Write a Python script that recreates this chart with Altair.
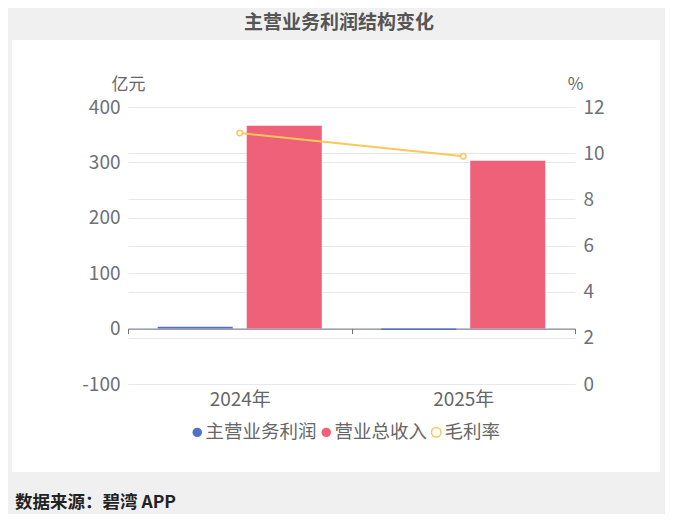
import altair as alt
import pandas as pd

# ---- data ----
years = ["2024年", "2025年"]
series = ["主营业务利润", "营业总收入"]
line_name = "毛利率"
profit = [3.5, -2.5]          # 亿元
revenue = [366, 303]          # 亿元
margin = [10.87, 9.87]        # %
left_ticks = [-100, 0, 100, 200, 300, 400]
right_ticks = [0, 2, 4, 6, 8, 10, 12]
title_text = "主营业务利润结构变化"
source_text = "数据来源：碧湾 APP"
left_title = "亿元"
right_title = "%"
bar_colors = ["#5470c6", "#ef6079"]
line_color = "#fac858"

FONT = "Noto Sans CJK SC"
GRAY_BG = "#f0f0f0"
GRID = "#e6e8ef"
LABEL = "#6e7079"
TICK_FS = 19

bars_df = pd.DataFrame({
    "year": years * 2,
    "series": [series[0]] * len(years) + [series[1]] * len(years),
    "value": profit + revenue,
})
line_df = pd.DataFrame({"year": years, "series": [line_name] * len(years), "value": margin})
dummy = pd.DataFrame({"a": [0]})

x_enc = alt.X(
    "year:N", sort=years,
    scale=alt.Scale(paddingInner=0, paddingOuter=0),
    axis=alt.Axis(
        title=None, offset=-55.4, domainColor=LABEL, tickColor=LABEL, tickSize=5,
        tickBand="extent", labelPadding=57, labelFontSize=TICK_FS, labelColor="#666",
        labelFont=FONT, labelAngle=0, grid=False, labelBaseline="top",
    ),
)

common_legend = dict(
    title=None, orient="none", direction="horizontal",
    symbolType="circle", symbolSize=90, labelFontSize=18.5, labelColor="#666",
    labelFont=FONT, columnPadding=alt.ExprRef(expr="-5"),
    labelOffset=alt.ExprRef(expr="-1"), symbolOpacity=1,
)

bars = alt.Chart(bars_df).mark_bar().encode(
    x=x_enc,
    xOffset=alt.XOffset("series:N", sort=series,
                        scale=alt.Scale(paddingInner=0.157, paddingOuter=0.334)),
    y=alt.Y("value:Q", scale=alt.Scale(domain=[-100, 400], nice=False, zero=False),
            axis=alt.Axis(title=left_title, values=left_ticks, orient="left",
                          labelExpr="'' + datum.value",
                          domain=False, ticks=False, tickSize=0, labelPadding=8,
                          labelFontSize=TICK_FS, labelColor=LABEL, labelFont=FONT,
                          grid=True, gridColor=GRID,
                          titleAngle=0, titleX=0, titleY=-23, titleAlign="center",
                          titleBaseline="middle", titleFontSize=17, titleFont=FONT,
                          titleColor="#666", titleFontWeight="normal")),
    color=alt.Color("series:N", sort=series,
                    scale=alt.Scale(domain=series, range=bar_colors),
                    legend=alt.Legend(legendX=60, legendY=316, **common_legend)),
)

y_right = alt.Y("value:Q", scale=alt.Scale(domain=[0, 12], nice=False, zero=False),
                axis=alt.Axis(title=right_title, values=right_ticks, orient="right",
                              domain=False, ticks=False, tickSize=0, labelPadding=8,
                              labelFontSize=TICK_FS, labelColor=LABEL, labelFont=FONT,
                              grid=True, gridColor=GRID,
                              titleAngle=0, titleX=0, titleY=-23, titleAlign="center",
                              titleBaseline="middle", titleFontSize=17, titleFont=FONT,
                              titleColor="#666", titleFontWeight="normal"))

stroke_enc = alt.Stroke("series:N", scale=alt.Scale(domain=[line_name], range=[line_color]),
                        legend=alt.Legend(legendX=299, legendY=316,
                                          symbolFillColor="#ffffff",
                                          symbolStrokeColor=line_color,
                                          symbolStrokeWidth=1.5, **common_legend))

line = alt.Chart(line_df).mark_line(strokeWidth=2).encode(
    x=alt.X("year:N", sort=years), y=y_right, stroke=stroke_enc,
)
pts = alt.Chart(line_df).mark_point(filled=False, fill="white", size=30,
                                    strokeWidth=1.5, opacity=1).encode(
    x=alt.X("year:N", sort=years), y=y_right, stroke=stroke_enc,
)
line_layer = alt.layer(line, pts)


def strip(x1, x2, y1, y2):
    return alt.Chart(dummy).mark_rect(color=GRAY_BG).encode(
        x=alt.value(x1), x2=alt.value(x2), y=alt.value(y1), y2=alt.value(y2))


strips = [
    strip(-120, 537, -99, -67),
    strip(-120, -116, -67, 365),
    strip(532, 537, -67, 365),
    strip(-120, 537, 365, 407),
]

title_mark = alt.Chart(dummy).mark_text(
    font=FONT, fontSize=19, fontWeight="bold", color="#555", align="center",
    baseline="middle").encode(x=alt.value(211), y=alt.value(-84), text=alt.value(title_text))
source_mark = alt.Chart(dummy).mark_text(
    font=FONT, fontSize=17.5, fontWeight="bold", color="#222", align="left",
    baseline="middle").encode(x=alt.value(-113), y=alt.value(396), text=alt.value(source_text))

chart = alt.layer(bars, line_layer, *strips, title_mark, source_mark).resolve_scale(
    y="independent"
).properties(
    width=447, height=277,
    autosize=alt.AutoSizeParams(type="none"),
    padding={"left": 120, "top": 99, "right": 90, "bottom": 130},
    background="white",
).configure_view(stroke=None)

chart.save("out.html", embed_options={"renderer": "svg", "actions": False})
